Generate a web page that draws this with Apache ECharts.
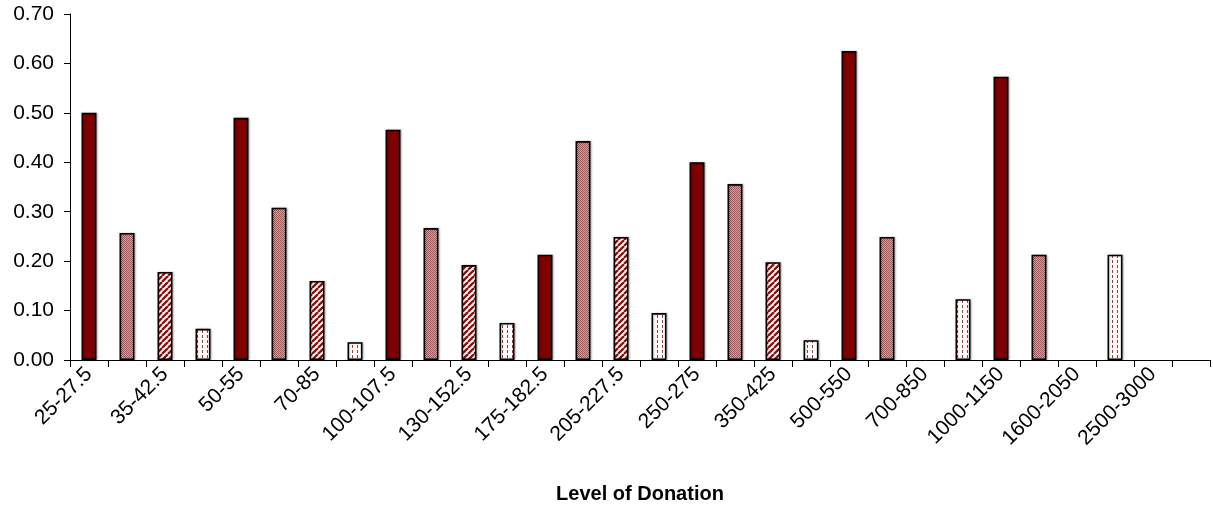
<!DOCTYPE html>
<html><head><meta charset="utf-8">
<script src="https://cdn.jsdelivr.net/npm/echarts@6/dist/echarts.min.js"></script>
<style>html,body{margin:0;padding:0;background:#fff}#c{width:1213px;height:506px}</style>
</head><body><div id="c"></div>
<script>
// Categories (every other label is shown in the source chart; hidden ones left blank)
const categories = ['25-27.5','','35-42.5','','50-55','','70-85','','100-107.5','','130-152.5','','175-182.5','','205-227.5','','250-275','','350-425','','500-550','','700-850','','1000-1150','','1600-2050','','2500-3000',''];
const values = [0.50,0.257,0.178,0.063, 0.49,0.308,0.16,0.036, 0.466,0.267,0.192,0.075, 0.213,0.443,0.249,0.095, 0.40,0.356,0.198,0.04, 0.625,0.249,0,0.123, 0.573,0.213,0,0.213, 0,0];
const yTicks = [0,0.1,0.2,0.3,0.4,0.5,0.6,0.7];

function makeTile(w,h,draw){const c=document.createElement('canvas');c.width=w;c.height=h;const g=c.getContext('2d');draw(g,w,h);return c;}
const pinkTile = makeTile(2,2,(g)=>{g.fillStyle='#d6a0a0';g.fillRect(0,0,2,2);g.fillStyle='#a45656';g.fillRect(0,0,1,1);g.fillRect(1,1,1,1);});
const hatchTile = makeTile(6,6,(g,w,h)=>{g.fillStyle='#ffffff';g.fillRect(0,0,w,h);g.strokeStyle='#9a0a0a';g.lineWidth=2.3;
  for(let k=-1;k<=1;k++){g.beginPath();g.moveTo(k*w,h);g.lineTo(k*w+w,0);g.stroke();}});
const dotTile = makeTile(5,5,(g,w,h)=>{g.fillStyle='#ffffff';g.fillRect(0,0,w,h);g.fillStyle='#b83030';g.fillRect(2,0,1,3);});

const fills = ['#800000',{image:pinkTile,repeat:'repeat'},{image:hatchTile,repeat:'repeat'},{image:dotTile,repeat:'repeat'}];

const chart = echarts.init(document.getElementById('c'),null,{renderer:'canvas'});
const font = 'Liberation Sans, Arial, sans-serif';
chart.setOption({
  animation:false,
  grid:{left:70,right:3,top:14,bottom:146,containLabel:false,outerBoundsMode:'none'},
  xAxis:{type:'category',data:categories,
    axisLine:{lineStyle:{color:'#000',width:1}},
    axisTick:{show:true,interval:0,length:7,lineStyle:{color:'#000'}},
    axisLabel:{interval:0,rotate:45,margin:11,color:'#000',fontSize:21,fontFamily:font},
    name:'Level of Donation',nameLocation:'middle',nameGap:124,
    nameTextStyle:{fontSize:20,fontWeight:'bold',color:'#000',fontFamily:font}},
  yAxis:{type:'value',min:0,max:0.7,interval:0.1,
    axisLine:{show:true,lineStyle:{color:'#000',width:1}},
    axisTick:{show:true,length:6,lineStyle:{color:'#000'}},
    splitLine:{show:false},
    axisLabel:{margin:16,color:'#000',fontSize:21,fontFamily:font,formatter:v=>v.toFixed(2)}},
  series:[{type:'bar',barWidth:15,
    data:values.map((v,i)=>({value:v,itemStyle:{color:fills[i%4],borderColor:'#000',borderWidth:v>0?1.6:0,
      shadowColor:'rgba(0,0,0,0.25)',shadowBlur:v>0?2:0,shadowOffsetX:1}}))}]
});
</script></body></html>
